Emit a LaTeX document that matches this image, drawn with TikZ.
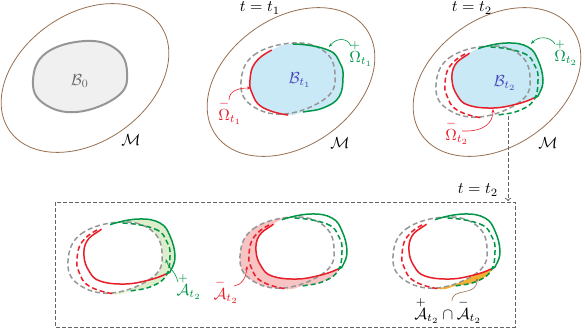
\documentclass[tikz,border=0pt]{standalone}
\usepackage{amsmath}
\usetikzlibrary{arrows.meta}

\definecolor{manifoldcol}{RGB}{150,110,80}
\definecolor{gaincol}{RGB}{0,150,70}
\definecolor{losscol}{RGB}{232,30,40}
\definecolor{initcol}{RGB}{150,150,150}
\definecolor{initfill}{RGB}{240,240,240}
\definecolor{bodycol}{RGB}{202,233,247}
\definecolor{bodytext}{RGB}{70,70,190}
\definecolor{gainfill}{RGB}{222,238,205}
\definecolor{lossfill}{RGB}{248,195,195}
\definecolor{overlapfill}{RGB}{245,175,50}
\definecolor{framecol}{RGB}{100,100,100}

\tikzset{
  manifold/.style={draw=manifoldcol, line width=0.8pt},
  initline/.style={draw=initcol, line width=1.5pt, dash pattern=on 5pt off 3pt},
  lossline/.style={draw=losscol, line width=1.5pt},
  gainline/.style={draw=gaincol, line width=1.5pt},
  olddash/.style={dash pattern=on 5pt off 3pt},
  callout/.style={line width=0.6pt, -{Stealth[length=4pt,width=3pt]}},
}

% body outlines, local coordinates round the initial body
\def\bodyinit{plot[smooth cycle, tension=0.7] coordinates {(-47,3) (-34,-24) (5,-36) (36,-28) (47,-5) (38,19) (-3,35) (-37,26)}}
\def\bodyone{plot[smooth cycle, tension=0.7] coordinates {(5,-35) (40,-29) (52,-16) (55,-2) (51,18) (35,29) (15,33) (0,36) (-26,28) (-36,14) (-38,1) (-33,-16) (-16,-29)}}
\def\bodytwo{plot[smooth cycle, tension=0.7] coordinates {(-3,-34) (24,-39) (45,-35) (55,-22) (60,-2) (56,12) (51,16) (34,22) (10,26) (-15,23) (-26,13) (-31,-2) (-28,-17) (-16,-27)}}

% where each outline is red or green
\def\lossclipone{(-100,-60) -- (-24,-60) -- (6,60) -- (-100,60) -- cycle}
\def\gainclipone{(1,-60) -- (100,-60) -- (100,60) -- (19,60) -- cycle}
\def\lossciptwo{(0,0) -- (-28,-60) -- (-100,-60) -- (-100,100) -- (100,100) -- (100,31) -- cycle}
\def\gaincliptwo{(0,0) -- (-9,-60) -- (100,-60) -- (100,31) -- cycle}

\def\drawhistory{%
  \draw[initline] \bodyinit;
  \begin{scope} \clip \lossclipone; \draw[lossline, olddash] \bodyone; \end{scope}
  \begin{scope} \clip \gainclipone; \draw[gainline, olddash] \bodyone; \end{scope}
  \begin{scope} \clip \lossciptwo; \draw[lossline] \bodytwo; \end{scope}
  \begin{scope} \clip \gaincliptwo; \draw[gainline] \bodytwo; \end{scope}
}

\begin{document}
\begin{tikzpicture}[x=1pt, y=-1pt, every node/.style={scale=1.6}]

  \useasboundingbox (0,0) rectangle (585,329);

  % Manifolds
  \draw[manifold, rotate around={35:(85,78)}] (85,78) ellipse [x radius=92, y radius=64];
  \draw[manifold, rotate around={35:(291,82)}] (291,82) ellipse [x radius=92, y radius=64];
  \draw[manifold, rotate around={35:(497,82)}] (497,82) ellipse [x radius=92, y radius=64];

  % Initial body
  \begin{scope}[shift={(80,77)}]
    \draw[initcol, fill=initfill, line width=2pt] \bodyinit;
  \end{scope}

  % Body at t1
  \begin{scope}[shift={(288,79)}]
    \fill[bodycol] \bodyone;
    \draw[initline] \bodyinit;
    \begin{scope} \clip \lossclipone; \draw[lossline] \bodyone; \end{scope}
    \begin{scope} \clip \gainclipone; \draw[gainline] \bodyone; \end{scope}
  \end{scope}

  % Body at t2
  \begin{scope}[shift={(483,82)}]
    \fill[bodycol] \bodytwo;
    \drawhistory
  \end{scope}

  % Labels, top row
  \node[initcol!70!black] (initlabel) at (80,81) {$\mathcal{B}_0$};
  \node (manone) at (131,140) {$\mathcal{M}$};
  \node (timeone) at (260,8) {$t = t_1$};
  \node[bodytext] (bodyonelabel) at (300,80) {$\mathcal{B}_{t_1}$};
  \node (mantwo) at (340,143) {$\mathcal{M}$};
  \node[gaincol] (gainone) at (361,53) {$\overset{+}{\Omega}_{t_1}$};
  \node[losscol] (lossone) at (230,111) {$\overset{-}{\Omega}_{t_1}$};
  \node (timetwo) at (472,8) {$t = t_2$};
  \node[bodytext] (bodytwolabel) at (505,83) {$\mathcal{B}_{t_2}$};
  \node (manthree) at (548,143) {$\mathcal{M}$};
  \node[gaincol] (gaintwo) at (566,52) {$\overset{+}{\Omega}_{t_2}$};
  \node[losscol] (losstwo) at (457,131) {$\overset{-}{\Omega}_{t_2}$};

  % Callouts, top row
  \coordinate (gainonetip) at (329,47);
  \coordinate (lossonetip) at (251,88);
  \coordinate (gaintwotip) at (531,44);
  \coordinate (losstwotip) at (493,109);
  \draw[callout, gaincol] (351,46) .. controls (347,37) and (336,38) .. (gainonetip);
  \draw[callout, losscol] (229,100) .. controls (229,90) and (240,88) .. (lossonetip);
  \draw[callout, gaincol] (555,44) .. controls (550,36) and (538,36) .. (gaintwotip);
  \draw[callout, losscol] (462,131) .. controls (485,132) and (493,122) .. (losstwotip);

  % Zoomed frame
  \node (timezoom) at (478,190) {$t = t_2$};
  \draw[framecol, line width=0.8pt, dash pattern=on 4pt off 2pt] (55,202) rectangle (515,327);
  \coordinate (dropstart) at (508,116);
  \coordinate (dropend) at (508,201);
  \draw[framecol, line width=0.7pt, dash pattern=on 4pt off 2pt, -{To[length=3pt]}] (dropstart) -- (dropend);

  % Gained area
  \begin{scope}[shift={(115,258)}]
    \fill[gainfill] \bodyone;
    \fill[gainfill] \bodytwo;
    \fill[white] \bodyinit;
    \drawhistory
  \end{scope}

  % Lost area
  \begin{scope}[shift={(287,253)}]
    \fill[lossfill] \bodyinit;
    \fill[lossfill] \bodyone;
    \fill[white] \bodytwo;
    \drawhistory
  \end{scope}

  % Gained then lost
  \begin{scope}[shift={(440,253)}]
    \fill[overlapfill] \bodyone;
    \fill[white] \bodyinit;
    \fill[white] \bodytwo;
    \drawhistory
  \end{scope}

  % Labels, bottom row
  \node[gaincol] (gainarea) at (189,286) {$\overset{+}{\mathcal{A}}_{t_2}$};
  \node[losscol] (lossarea) at (226,290) {$\overset{-}{\mathcal{A}}_{t_2}$};
  \node (bothareas) at (448,310) {$\overset{+}{\mathcal{A}}_{t_2} \cap \overset{-}{\mathcal{A}}_{t_2}$};

  \coordinate (gainareatip) at (166,259);
  \coordinate (lossareatip) at (247,266);
  \coordinate (bothareastip) at (477,278);
  \draw[callout, gaincol] (178,282) .. controls (175,270) and (168,268) .. (gainareatip);
  \draw[callout, losscol] (234,286) .. controls (241,285) and (246,279) .. (lossareatip);
  \draw[callout, manifoldcol] (452,301) .. controls (452,287) and (477,297) .. (bothareastip);

\end{tikzpicture}
\end{document}
